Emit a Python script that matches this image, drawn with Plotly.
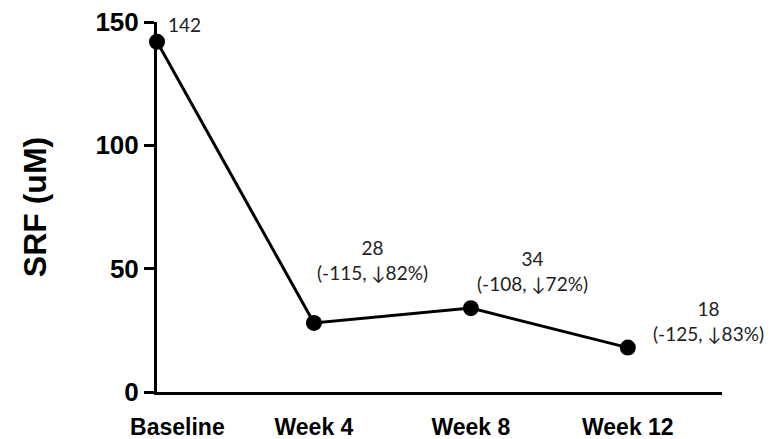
import plotly.graph_objects as go

categories = ["Baseline", "Week 4", "Week 8", "Week 12"]
srf_values = [142, 28, 34, 18]
change_labels = ["", "(-115, \u219382%)", "(-108, \u219372%)", "(-125, \u219383%)"]

x_pos = list(range(len(categories)))

fig = go.Figure()
fig.add_trace(go.Scatter(
    x=x_pos, y=srf_values, mode="lines+markers",
    line=dict(color="black", width=3),
    marker=dict(color="black", size=16),
    cliponaxis=False, showlegend=False,
))

# label offsets (pixels) relative to each point
shifts = [(9, 17, "left"), (59, 63, "center"), (62, 37, "center"), (81, 27, "center")]
for i, (v, c) in enumerate(zip(srf_values, change_labels)):
    xs, ys, al = shifts[i]
    text = f"{v}" if not c else f"{v}<br>{c}"
    fig.add_annotation(
        x=x_pos[i], y=v, text=text, showarrow=False,
        xshift=xs, yshift=ys, xanchor=al, yanchor="middle", align="center",
        font=dict(family="Lato, Open Sans, sans-serif", size=19, color="#222"),
    )

tick_positions = [x_pos[0] + 0.13] + x_pos[1:]

# the page body adds an 8px offset; margins compensate for it
fig.update_layout(
    width=777, height=439,
    margin=dict(l=149, r=63, t=14, b=55),
    paper_bgcolor="white", plot_bgcolor="white",
    font=dict(family="Liberation Sans, Arial, sans-serif", color="black"),
    xaxis=dict(
        range=[0, 3.6], showgrid=False, zeroline=False, automargin=False,
        showline=True, linecolor="black", linewidth=3,
        tickvals=tick_positions, ticktext=categories, ticks="",
        ticklabelstandoff=12, ticklabeloverflow="allow",
        tickfont=dict(size=23, family="Liberation Sans, Arial, sans-serif", weight="bold"),
    ),
    yaxis=dict(
        range=[0, 150], showgrid=False, zeroline=False, automargin=False,
        showline=True, linecolor="black", linewidth=3,
        tickvals=[0, 50, 100, 150], ticks="outside", ticklen=10, tickwidth=3,
        tickcolor="black", ticklabeloverflow="allow",
        tickfont=dict(size=26, family="Liberation Sans, Arial, sans-serif", weight="bold"),
        title=dict(text="SRF (uM)", standoff=40,
                   font=dict(size=32, family="Liberation Sans, Arial, sans-serif", weight="bold")),
    ),
)

fig.write_html("out.html")
